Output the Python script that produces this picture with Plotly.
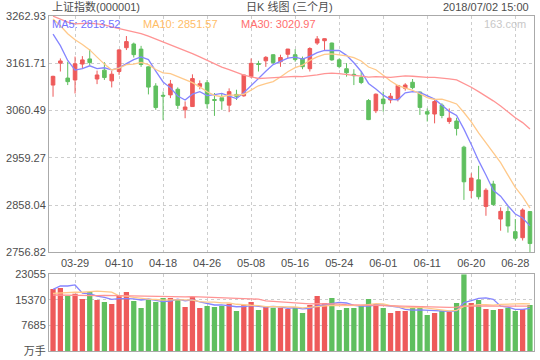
import numpy as np
import pandas as pd
import plotly.graph_objects as go

# ---------------- data ----------------
dates = [
    "2018-03-26", "2018-03-27", "2018-03-28", "2018-03-29", "2018-03-30",
    "2018-04-02", "2018-04-03", "2018-04-04", "2018-04-09", "2018-04-10", "2018-04-11",
    "2018-04-12", "2018-04-13", "2018-04-16", "2018-04-17", "2018-04-18", "2018-04-19",
    "2018-04-20", "2018-04-23", "2018-04-24", "2018-04-25", "2018-04-26", "2018-04-27",
    "2018-05-02", "2018-05-03", "2018-05-04", "2018-05-07", "2018-05-08", "2018-05-09",
    "2018-05-10", "2018-05-11", "2018-05-14", "2018-05-15", "2018-05-16", "2018-05-17",
    "2018-05-18", "2018-05-21", "2018-05-22", "2018-05-23", "2018-05-24", "2018-05-25",
    "2018-05-28", "2018-05-29", "2018-05-30", "2018-05-31",
    "2018-06-01", "2018-06-04", "2018-06-05", "2018-06-06", "2018-06-07", "2018-06-08",
    "2018-06-11", "2018-06-12", "2018-06-13", "2018-06-14", "2018-06-15", "2018-06-19",
    "2018-06-20", "2018-06-21", "2018-06-22", "2018-06-25", "2018-06-26", "2018-06-27",
    "2018-06-28", "2018-06-29", "2018-07-02",
]
opens = [3115, 3162, 3130, 3126, 3160, 3171, 3128, 3147, 3124, 3144, 3195,
         3203, 3192, 3154, 3113, 3093, 3094, 3106, 3062, 3069, 3112, 3120, 3084,
         3088, 3072, 3095, 3092, 3133, 3161, 3167, 3180, 3165, 3181, 3180, 3172,
         3150, 3205, 3210, 3205, 3169, 3150, 3138, 3131, 3082, 3060,
         3085, 3083, 3085, 3108, 3121, 3100, 3058, 3053, 3072, 3037, 3038, 2982,
         2889, 2912, 2855, 2903, 2828, 2844, 2801, 2788, 2844]
highs = [3135, 3172, 3165, 3176, 3177, 3192, 3146, 3164, 3145, 3192, 3220,
         3206, 3199, 3155, 3119, 3101, 3126, 3110, 3080, 3138, 3125, 3126, 3098,
         3098, 3108, 3105, 3137, 3172, 3167, 3177, 3181, 3180, 3192.5, 3192, 3176,
         3196, 3220, 3215, 3206, 3172, 3162, 3149, 3144, 3085, 3097,
         3101, 3098, 3115, 3119, 3128, 3101, 3065, 3085, 3076, 3065, 3045, 2985,
         2926, 2942, 2894, 2910, 2853, 2855, 2828, 2851, 2845]
lows = [3090, 3144, 3115, 3097, 3151, 3157, 3117, 3126, 3110, 3137, 3190,
        3174, 3154, 3095, 3062, 3040, 3087, 3064, 3044, 3068, 3106, 3065, 3049,
        3062, 3057, 3083, 3090, 3130, 3144, 3154, 3160, 3154, 3172, 3165, 3149,
        3144, 3201, 3190, 3167, 3151, 3133, 3115, 3117, 3040, 3055,
        3058, 3076, 3080, 3103, 3106, 3051, 3037, 3033, 3044, 3032, 3007, 2869,
        2873, 2870, 2835, 2856, 2803, 2799, 2782, 2782, 2756.82]
closes = [3133.72, 3166.65, 3122.29, 3160.53, 3168.90, 3163.18, 3136.63, 3131.11,
          3138.29, 3190.32, 3208.08, 3180.16, 3159.05, 3110.65, 3066.80, 3091.40,
          3117.38, 3071.54, 3068.01, 3128.93, 3117.97, 3075.03, 3082.23,
          3081.18, 3100.86, 3091.03, 3136.64, 3161.50, 3159.15, 3174.41, 3163.26,
          3174.03, 3192.12, 3169.57, 3154.28, 3193.30, 3213.84, 3214.35, 3168.96,
          3154.65, 3141.30, 3135.08, 3120.46, 3041.00, 3095.47,
          3075.14, 3091.19, 3114.21, 3115.18, 3109.50, 3067.15, 3052.78, 3079.80,
          3049.80, 3044.16, 3021.90, 2907.82, 2915.73, 2875.81, 2889.76, 2859.34,
          2844.51, 2813.18, 2786.90, 2847.42, 2775.56]
volumes = [18640, 18940, 16530, 17220, 15630, 17740, 15330, 14730, 14130, 16830, 17740,
           15030, 12930, 15630, 14730, 15930, 15930, 15630, 13230, 16230, 12930, 13530, 13230,
           13530, 14220, 12020, 13830, 14730, 12330, 13230, 13030, 13030, 12630, 13230, 11420,
           13830, 16530, 14430, 15930, 12330, 12930, 12930, 13530, 15630, 14130,
           12930, 11420, 12020, 12020, 12930, 13530, 10820, 11420, 12020, 11720, 14430, 23055,
           14430, 15330, 12630, 12330, 12630, 13030, 12020, 12630, 13830]  # 万手

# sessions before the window (needed for the moving averages)
prior_closes = [3370.65, 3309.26, 3262.05, 3129.85, 3154.13, 3184.96, 3199.16, 3268.56,
                3289.02, 3329.57, 3292.07, 3259.41, 3273.75, 3254.53, 3256.93, 3289.64,
                3271.67, 3288.41, 3307.17, 3326.70, 3310.24, 3291.38, 3291.11, 3269.88,
                3279.25, 3290.64, 3280.95, 3263.48, 3152.76]
prior_volumes = [19800, 17200, 18500, 21000, 16800, 13500, 12600, 15800, 17300, 16900,
                 18200, 16500, 15900, 15200, 16100, 17400, 16800, 15300, 14600, 16100,
                 17500, 16800, 15200, 15600, 15600, 14000, 16500, 15700, 27900]

tick_dates = ["2018-03-29", "2018-04-10", "2018-04-18", "2018-04-26", "2018-05-08",
              "2018-05-16", "2018-05-24", "2018-06-01", "2018-06-11", "2018-06-20", "2018-06-28"]
tick_labels = ["03-29", "04-10", "04-18", "04-26", "05-08", "05-16", "05-24",
               "06-01", "06-11", "06-20", "06-28"]
price_ticks = [2756.82, 2858.04, 2959.27, 3060.49, 3161.71, 3262.93]
volume_ticks = [0, 7685, 15370, 23055]
volume_tick_labels = ["万手", "7685", "15370", "23055"]
ma_periods = [5, 10, 30]
ma_labels = ["MA5: 2813.52", "MA10: 2851.57", "MA30: 3020.97"]
title_left = "上证指数(000001)"
title_mid = "日K 线图 (三个月)"
title_right = "2018/07/02 15:00"
watermark = "163.com"

# ---------------- styles ----------------
RED = "#ee5a5a"
GREEN = "#5fbf5f"
MA_LINE = ["#8585ff", "#ffc98a", "#ff9494"]
MA_TEXT = ["#7373ff", "#ffbd66", "#ff6e6e"]
GRID = "#cdcdcd"
AXIS = "#aaaaaa"
TXT = "#4d4d4d"
FONT = "Liberation Sans, Arial, Noto Sans CJK SC, sans-serif"

W, H = 540, 360
ML, MR, MT, MB = 49, 6, 16, 9
PW, PH = W - ML - MR, H - MT - MB


def px_x(x):
    return (x - ML) / PW


def px_y(y):
    return (H - MB - y) / PH


n = len(dates)
all_c = pd.Series(prior_closes + closes)
all_v = pd.Series(prior_volumes + volumes)
price_ma = [all_c.rolling(p).mean().iloc[-n:].to_numpy() for p in ma_periods]
vol_ma = [all_v.rolling(p).mean().iloc[-n:].to_numpy() for p in ma_periods]

bar_colors = [RED if c >= o else GREEN for o, c in zip(opens, closes)]

fig = go.Figure()
fig.add_trace(go.Candlestick(
    x=dates, open=opens, high=highs, low=lows, close=closes,
    increasing=dict(line=dict(color=RED, width=1), fillcolor=RED),
    decreasing=dict(line=dict(color=GREEN, width=1), fillcolor=GREEN),
    xaxis="x", yaxis="y", hoverinfo="skip",
))
for ma, col in zip(price_ma, MA_LINE):
    fig.add_trace(go.Scatter(x=dates, y=ma, mode="lines",
                             line=dict(color=col, width=1.3),
                             xaxis="x", yaxis="y", hoverinfo="skip"))
fig.add_trace(go.Bar(x=dates, y=volumes, marker=dict(color=bar_colors, line=dict(width=0)),
                     width=0.72, xaxis="x2", yaxis="y2", hoverinfo="skip"))
for ma, col in zip(vol_ma, MA_LINE):
    fig.add_trace(go.Scatter(x=dates, y=ma, mode="lines",
                             line=dict(color=col, width=1.3),
                             xaxis="x2", yaxis="y2", hoverinfo="skip"))

main_bottom = (H - MB - 252.3) / PH
vol_top = (H - MB - 274.3) / PH

common_x = dict(
    type="category", categoryorder="array", categoryarray=dates,
    range=[-0.55, 65.55], autorange=False, tickvals=tick_dates, ticktext=tick_labels,
    showgrid=True, gridcolor=GRID, gridwidth=1, griddash="3px,3px",
    showline=True, mirror=True, linecolor=AXIS, linewidth=1, automargin=False,
    ticks="", zeroline=False, tickfont=dict(size=11, color=TXT, family=FONT),
)
common_y = dict(
    showgrid=True, gridcolor=GRID, gridwidth=1, griddash="3px,3px",
    showline=True, mirror=True, linecolor=AXIS, linewidth=1, automargin=False,
    ticks="", zeroline=False, tickfont=dict(size=11, color=TXT, family=FONT),
)
fig.update_layout(
    template="none",
    width=W, height=H,
    margin=dict(l=ML, r=MR, t=MT, b=MB, pad=0, autoexpand=False),
    paper_bgcolor="white", plot_bgcolor="white",
    showlegend=False,
    font=dict(family=FONT, size=11, color=TXT),
    xaxis=dict(**common_x, anchor="y", rangeslider=dict(visible=False)),
    xaxis2=dict(**common_x, anchor="y2", matches="x", showticklabels=False),
    yaxis=dict(**common_y, domain=[main_bottom, 1], range=[2756.8, 3262.95],
               tickvals=price_ticks, ticktext=[f"{v:.2f}" for v in price_ticks]),
    yaxis2=dict(**common_y, domain=[0, vol_top], range=[0, 23056],
                tickvals=volume_ticks, ticktext=volume_tick_labels),
)

ann = [
    (title_left, 49.5, 6.8, "left", TXT),
    (title_mid, 289.4, 6.8, "center", TXT),
    (title_right, 531.0, 6.8, "right", TXT),
    (ma_labels[0], 49.5, 24, "left", MA_TEXT[0]),
    (ma_labels[1], 141.3, 24, "left", MA_TEXT[1]),
    (ma_labels[2], 238.9, 24, "left", MA_TEXT[2]),
    (watermark, 527.6, 24, "right", "#c8c8c8"),
]
for text, x, y, anchor, col in ann:
    fig.add_annotation(text=text, x=px_x(x), y=px_y(y), xref="paper", yref="paper",
                       xanchor=anchor, yanchor="middle", showarrow=False,
                       font=dict(size=11, color=col, family=FONT))

fig.write_html(
    "out.html",
    include_plotlyjs=True,
    config={"displayModeBar": False, "staticPlot": True},
    post_script="document.body.style.margin='0px';document.body.style.padding='0px';"
                "document.body.style.overflow='hidden';",
)
